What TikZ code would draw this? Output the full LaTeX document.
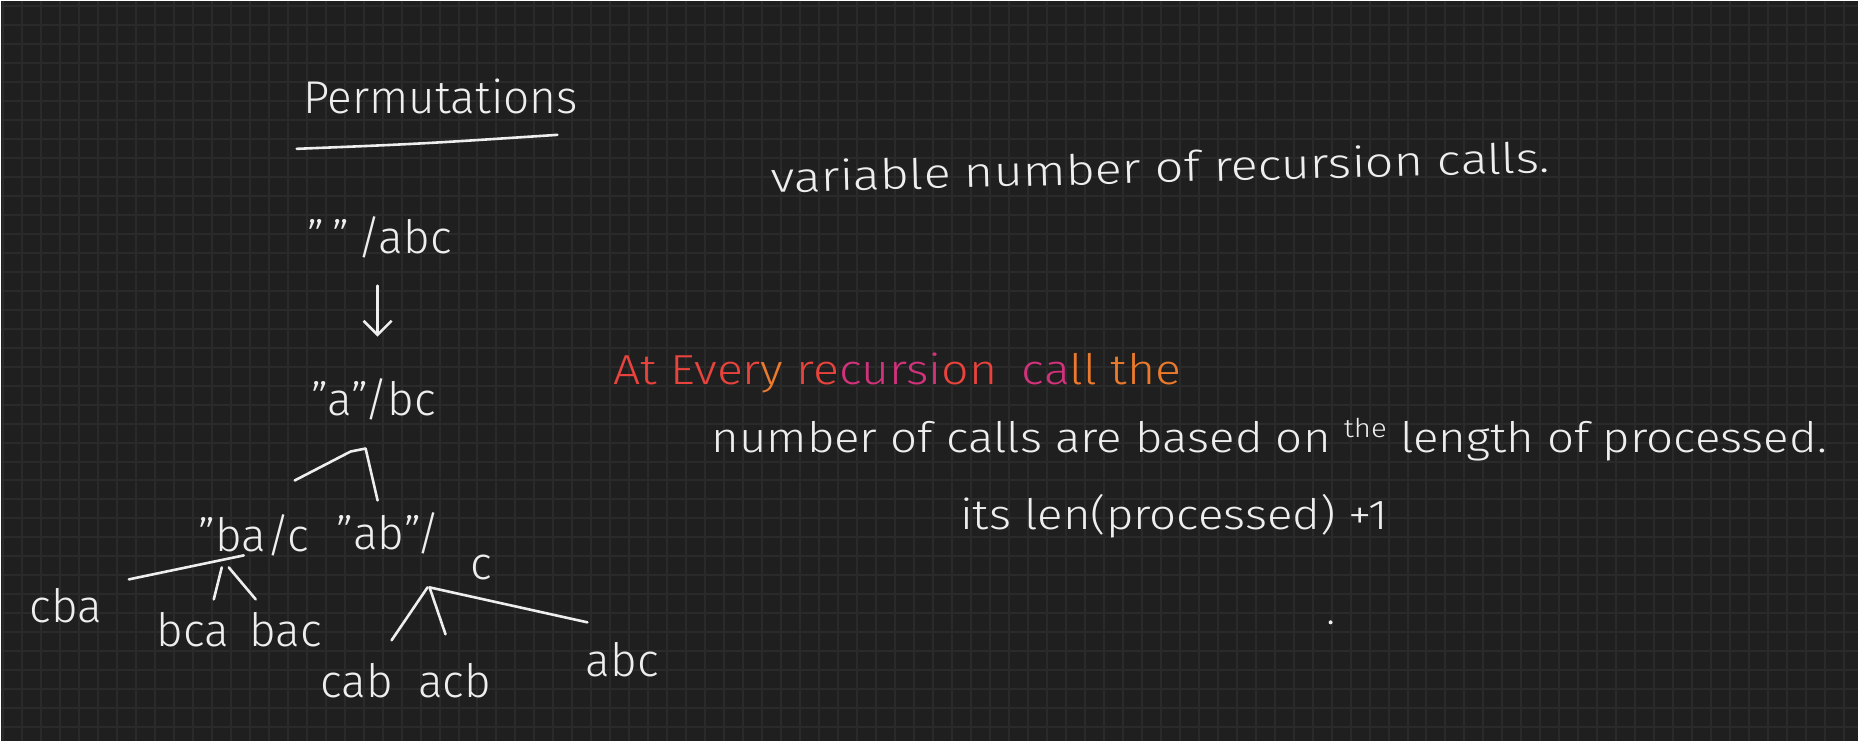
\documentclass[tikz,border=0pt]{standalone}
\usepackage{fontspec}
\setmainfont{Fira Sans Light}
\usetikzlibrary{arrows.meta, positioning, calc}
\usepackage{xcolor}

\definecolor{board}{HTML}{1F1F1F}
\definecolor{gridc}{HTML}{2A2A2A}
\definecolor{chalk}{HTML}{EEEEEE}
\definecolor{inkred}{HTML}{E8433C}
\definecolor{inkpink}{HTML}{D2327C}
\definecolor{inkorange}{HTML}{EC7A2C}

\newcommand{\widen}[2]{\scalebox{#1}[1]{#2}}

\begin{document}
\begin{tikzpicture}[
    x=1pt, y=-1pt,
    title/.style={font=\fontsize{46}{50}\selectfont, text=chalk, inner sep=0pt, anchor=base},
    perm/.style={font=\fontsize{46}{50}\selectfont, text=chalk, inner sep=0pt, anchor=base},
    note/.style={font=\fontsize{42}{46}\selectfont, text=chalk, inner sep=0pt, anchor=base west},
    stroke/.style={draw=chalk, line width=2.6pt, line cap=round, line join=round},
    gridline/.style={draw=gridc, line width=2pt}
]

% board
\fill[board] (0,0) rectangle (1859,741);
\foreach \gx in {0,...,97} \draw[gridline] ({2+19*\gx},0) -- ({2+19*\gx},741);
\foreach \gy in {0,...,38} \draw[gridline] (0,{5+19*\gy}) -- (1859,{5+19*\gy});
\useasboundingbox (0,0) rectangle (1859,741);

% heading
\node[title] (title) at (440,113) {Permutations};
\draw[stroke] ([shift={(-144,35)}]title.base) .. controls ([shift={(-20,30)}]title.base) .. ([shift={(117,21)}]title.base);

% tree
\node[perm] (root) at (379,253) {"\,"\,/abc};
\node[perm] (a) at (373,415) {"a"/bc};
\node[perm] (ba) at (253,551) {"ba/c};
\node[perm, anchor=base west] (ab) at (336,549) {"ab"/\hspace{30pt}\raisebox{-0.65em}{c}};
\node[perm] (cba) at (65,622) {cba};
\node[perm] (bca) at (192,646) {bca};
\node[perm] (bac) at (285,646) {bac};
\node[perm] (cab) at (356,697) {cab};
\node[perm] (acb) at (454,697) {acb};
\node[perm] (abc) at (622,676) {abc};

\draw[stroke, -{Straight Barb[length=14pt, width=28pt, line width=2.6pt]}] ([shift={(-2,32)}]root.base) -- ([shift={(-2,83)}]root.base);

\draw[stroke] ([shift={(41,-71)}]ba.base) -- ([shift={(-23,36)}]a.base) -- ([shift={(-8,33)}]a.base) -- ([shift={(41,-49)}]ab.base west);

\draw[stroke] ([shift={(-10,4)}]ba.base) -- ([shift={(63,-43)}]cba.base);
\draw[stroke] ([shift={(21,-47)}]bca.base) -- ([shift={(-32,16)}]ba.base);
\draw[stroke] ([shift={(-25,16)}]ba.base) -- ([shift={(-30,-47)}]bac.base);

\draw[stroke] ([shift={(35,-57)}]cab.base) -- ([shift={(91,38)}]ab.base west);
\draw[stroke] ([shift={(93,38)}]ab.base west) -- ([shift={(-9,-63)}]acb.base);
\draw[stroke] ([shift={(93,38)}]ab.base west) -- ([shift={(-35,-54)}]abc.base);

% notes
\node[note, rotate=1.5] (variable) at (771,192) {\widen{1.2}{variable number of recursion calls.}};
\node[note] (every) at (613,384) {\widen{1.15}{\textcolor{inkred}{At} \textcolor{inkred}{Ever}\textcolor{inkorange}{y} \textcolor{inkred}{re}\textcolor{inkpink}{cursi}\textcolor{inkred}{on}\enspace\textcolor{inkpink}{ca}\textcolor{inkorange}{ll} \textcolor{inkorange}{the}}};
\node[note] (calls) at (711,452) {\widen{1.13}{number of calls are based on \raisebox{0.7ex}{\fontsize{26}{28}\selectfont the} length of processed.}};
\node[note] (len) at (960,529) {\widen{1.13}{its len(processed) +1}};
\fill[chalk] (1331,622) circle (2);

\end{tikzpicture}
\end{document}
